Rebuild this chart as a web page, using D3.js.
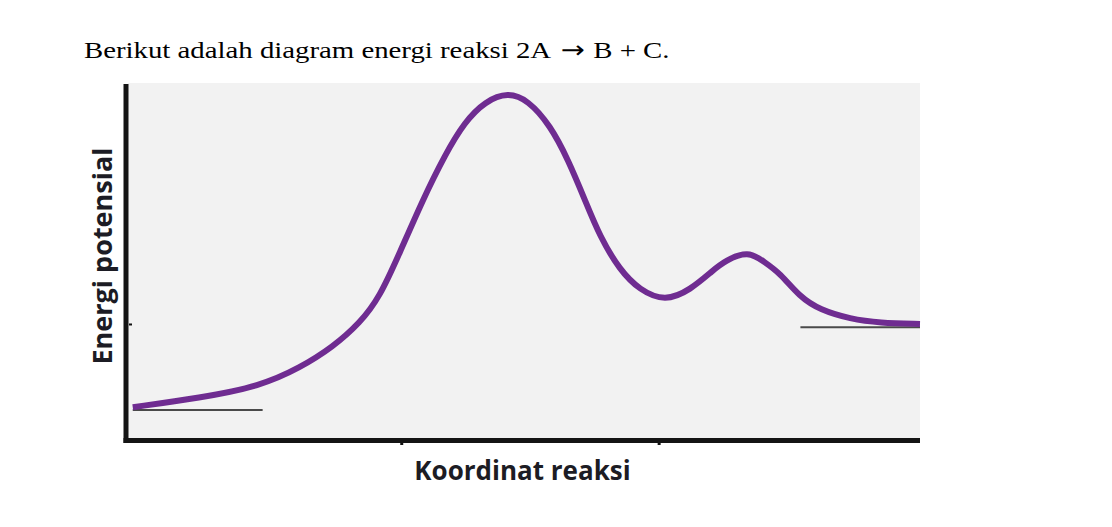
<!DOCTYPE html>
<html>
<head>
<meta charset="utf-8">
<script src="https://cdn.jsdelivr.net/npm/d3@7"></script>
<style>
  body { margin: 0; background: #fff; }
</style>
</head>
<body>
<svg id="svg"></svg>
<script>
////////////////////////////////////////////////////////////////////////
// Data: reaction coordinate (0..100) and potential energy (0..100)

let coord  = [0.6, 9.1, 16.7, 21.7, 25.9, 29.3, 31.8, 34.3, 37.2, 40.0, 42.5, 45.1,
              48.0, 50.5, 53.3, 55.6, 57.7, 59.6, 62.1, 64.6, 67.8, 71.0, 73.9,
              75.4, 78.3, 80.4, 82.3, 84.8, 87.4, 91.2, 94.9, 100];
let energy = [9.2, 11.8, 15.1, 20.2, 26.1, 32.8, 40.1, 52.4, 67.2, 79.8, 89.1, 94.9,
              97.4, 95.2, 88.2, 78.4, 67.2, 56.9, 47.6, 42.0, 38.8, 42.0, 47.6,
              50.2, 53.0, 49.8, 46.8, 40.1, 36.4, 33.9, 32.8, 32.5];

// reactant and product levels: [x start, x end, energy]
let reactantLevel = [0.6, 17.0, 8.4];
let productLevel  = [84.9, 100, 31.6];

let xTicks = [34.5, 67.0];
let yTicks = [32.5];

let titleParts = ["Berikut adalah diagram energi reaksi 2A", "\u2192", "B + C."];
let xLabel = "Koordinat reaksi";
let yLabel = "Energi potensial";

////////////////////////////////////////////////////////////////////////
// Layout

let width = 1112, height = 527;
let plot = { x1: 128, x2: 920, y1: 83, y2: 440 };

let svg = d3.select("#svg")
            .attr("width", width)
            .attr("height", height);

let xScale = d3.scaleLinear().domain([0, 100]).range([plot.x1, plot.x2]);
let yScale = d3.scaleLinear().domain([0, 100]).range([plot.y2, plot.y1]);

// title (the source picture is stretched horizontally)
let title = svg.append("text")
   .attr("transform", "translate(84,58) scale(1.2,1)")
   .attr("font-family", "Liberation Serif, Times New Roman, serif")
   .attr("font-size", 24)
   .attr("fill", "#000");
title.append("tspan").text(titleParts[0]);
title.append("tspan").attr("dx", 8)
     .attr("font-family", "DejaVu Sans, sans-serif")
     .attr("font-size", 24)
     .text(titleParts[1]);
title.append("tspan").attr("dx", 7).text(titleParts[2]);

// plot background
svg.append("rect")
   .attr("x", plot.x1)
   .attr("y", plot.y1)
   .attr("width", plot.x2 - plot.x1)
   .attr("height", plot.y2 - plot.y1)
   .attr("fill", "#f2f2f2");

// level lines
function drawLevel(lvl) {
  svg.append("line")
     .attr("x1", xScale(lvl[0]))
     .attr("x2", xScale(lvl[1]))
     .attr("y1", yScale(lvl[2]))
     .attr("y2", yScale(lvl[2]))
     .attr("stroke", "#4a4a4a")
     .attr("stroke-width", 2);
}
drawLevel(reactantLevel);
drawLevel(productLevel);

// energy curve
let pts = coord.map((c, i) => [c, energy[i]]);
let line = d3.line()
             .x(d => xScale(d[0]))
             .y(d => yScale(d[1]))
             .curve(d3.curveBasis);

svg.append("path")
   .datum(pts)
   .attr("d", line)
   .attr("fill", "none")
   .attr("stroke", "#6f2c91")
   .attr("stroke-width", 6)
   .attr("stroke-linecap", "butt");

// axes (thick black L)
let xAxis = d3.axisBottom(xScale).tickValues(xTicks).tickSize(4).tickFormat("");
let xg = svg.append("g")
            .attr("transform", "translate(0," + (plot.y2 + 1) + ")")
            .call(xAxis);
xg.select(".domain").remove();
xg.selectAll(".tick line").attr("stroke", "#111").attr("stroke-width", 3);

let yAxis = d3.axisRight(yScale).tickValues(yTicks).tickSize(3).tickFormat("");
let yg = svg.append("g")
            .attr("transform", "translate(" + (plot.x1 + 1) + ",0)")
            .call(yAxis);
yg.select(".domain").remove();
yg.selectAll(".tick line").attr("stroke", "#111").attr("stroke-width", 2);

svg.append("line")
   .attr("x1", plot.x1 - 2).attr("x2", plot.x1 - 2)
   .attr("y1", plot.y1 + 1).attr("y2", plot.y2 + 3)
   .attr("stroke", "#141414").attr("stroke-width", 5);

svg.append("line")
   .attr("x1", plot.x1 - 4.5).attr("x2", plot.x2)
   .attr("y1", plot.y2 + 0.5).attr("y2", plot.y2 + 0.5)
   .attr("stroke", "#141414").attr("stroke-width", 5);

// axis labels
svg.append("text")
   .attr("x", 522.5)
   .attr("y", 480)
   .attr("text-anchor", "middle")
   .attr("font-family", "Open Sans, Noto Sans, sans-serif")
   .attr("font-weight", "bold")
   .attr("font-size", 26)
   .attr("fill", "#1c1c24")
   .text(xLabel);

svg.append("text")
   .attr("transform", "translate(112,256) rotate(-90)")
   .attr("text-anchor", "middle")
   .attr("font-family", "Open Sans, Noto Sans, sans-serif")
   .attr("font-weight", "bold")
   .attr("font-size", 27)
   .attr("fill", "#1c1c24")
   .text(yLabel);
</script>
</body>
</html>
